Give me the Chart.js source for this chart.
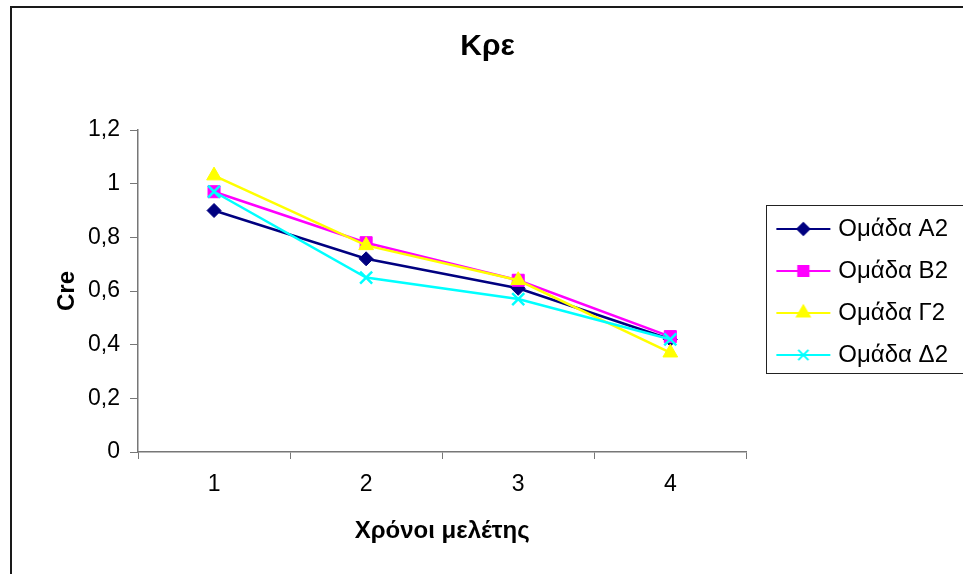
<!DOCTYPE html>
<html>
<head>
<meta charset="utf-8">
<title>Κρε</title>
<script src="https://cdn.jsdelivr.net/npm/chart.js@4.4.1/dist/chart.umd.min.js"></script>
<style>
  html, body { margin: 0; padding: 0; background: #fff; }
  #chart { display: block; }
</style>
</head>
<body>
<canvas id="chart" width="963" height="574"></canvas>
<script>
// Creatinine per study year, one line per group
const years = ['1', '2', '3', '4'];
const groupA2 = [0.90, 0.72, 0.61, 0.42];
const groupB2 = [0.97, 0.78, 0.64, 0.43];
const groupG2 = [1.03, 0.77, 0.64, 0.37];
const groupD2 = [0.97, 0.65, 0.57, 0.42];
const yTicks = [0, 0.2, 0.4, 0.6, 0.8, 1, 1.2];

const FONT = "'Liberation Sans', Arial, sans-serif";

const series = [
  { label: 'Ομάδα Α2', data: groupA2, color: '#000080', style: 'rectRot', radius: 7 },
  { label: 'Ομάδα Β2', data: groupB2, color: '#ff00ff', style: 'rect', radius: 8.5 },
  { label: 'Ομάδα Γ2', data: groupG2, color: '#ffff00', style: 'triangle', radius: 8.5 },
  { label: 'Ομάδα Δ2', data: groupD2, color: '#00ffff', style: 'crossRot', radius: 8.5 },
];

// legend key: short line with the marker in the middle
function legendSymbol(s) {
  const c = document.createElement('canvas');
  c.width = 72; c.height = 24;
  const ctx = c.getContext('2d');
  ctx.strokeStyle = s.color;
  ctx.fillStyle = s.color;
  ctx.lineWidth = 2;
  ctx.beginPath(); ctx.moveTo(17, 12); ctx.lineTo(71, 12); ctx.stroke();
  Chart.helpers.drawPoint(ctx, {
    pointStyle: s.style, rotation: 0, radius: s.radius * 0.85,
    borderWidth: s.style === 'crossRot' ? 2 : 1
  }, 44, 12);
  return c;
}

const frame = {
  id: 'frame',
  beforeDraw(chart) {
    const ctx = chart.ctx;
    ctx.save();
    ctx.fillStyle = '#fff';
    ctx.fillRect(0, 0, chart.width, chart.height);
    ctx.strokeStyle = '#1a1a1a';
    ctx.lineWidth = 2;
    ctx.strokeRect(11, 7, chart.width + 20, chart.height + 20);
    ctx.restore();
  },
  afterDraw(chart) {
    // box round the legend entries
    const boxes = chart.legend.legendHitBoxes;
    if (!boxes || !boxes.length) return;
    const l = Math.min(...boxes.map(b => b.left)) + 2;
    const t = Math.min(...boxes.map(b => b.top)) - 12;
    const r = Math.max(...boxes.map(b => b.left + b.width)) + 15;
    const btm = Math.max(...boxes.map(b => b.top + b.height)) + 6;
    const ctx = chart.ctx;
    ctx.save();
    ctx.strokeStyle = '#222';
    ctx.lineWidth = 1;
    ctx.strokeRect(Math.round(l) + 0.5, Math.round(t) + 0.5, Math.round(r - l), Math.round(btm - t));
    ctx.restore();
  }
};

new Chart(document.getElementById('chart'), {
  type: 'line',
  data: {
    labels: years,
    datasets: series.map((s, i) => ({
      label: s.label,
      data: s.data,
      borderColor: s.color,
      backgroundColor: s.color,
      pointBackgroundColor: s.color,
      pointBorderColor: s.color,
      pointStyle: s.style,
      pointRadius: s.radius,
      pointBorderWidth: s.style === 'crossRot' ? 2.5 : 1,
      borderWidth: 2.5,
      tension: 0,
      fill: false,
      order: series.length - i
    }))
  },
  options: {
    responsive: false,
    animation: false,
    layout: { padding: { left: 17, right: 5, top: 10, bottom: 0 } },
    plugins: {
      title: {
        display: true, text: 'Κρε', color: '#000',
        font: { family: FONT, size: 30, weight: 'bold' },
        padding: { top: 19, bottom: 65 }
      },
      legend: {
        position: 'right',
        labels: {
          color: '#000',
          font: { family: FONT, size: 24 },
          usePointStyle: true,
          pointStyleWidth: 62,
          padding: 18,
          generateLabels: () => series.map((s, i) => ({
            text: s.label, datasetIndex: i, hidden: false,
            pointStyle: legendSymbol(s), fillStyle: s.color, strokeStyle: s.color, lineWidth: 0
          }))
        }
      },
      tooltip: { enabled: false }
    },
    scales: {
      x: {
        offset: true,
        grid: { offset: true, drawOnChartArea: false, tickLength: 7, color: '#777' },
        border: { color: '#777', width: 1.5 },
        ticks: { color: '#000', font: { family: FONT, size: 23 }, padding: 12 },
        title: {
          display: true, text: 'Χρόνοι μελέτης', color: '#000',
          font: { family: FONT, size: 24, weight: 'bold' },
          padding: { top: 4, bottom: 28 }
        },
        afterFit(scale) { scale.height = 122; }
      },
      y: {
        min: 0, max: 1.2,
        afterBuildTicks(scale) { scale.ticks = yTicks.map(v => ({ value: v })); },
        grid: { drawOnChartArea: false, tickLength: 8, color: '#777' },
        border: { color: '#777', width: 1.5 },
        ticks: {
          color: '#000', font: { family: FONT, size: 23 }, padding: 10,
          callback: v => String(Math.round(v * 10) / 10).replace('.', ',')
        },
        title: {
          display: true, text: 'Cre', color: '#000',
          font: { family: FONT, size: 24, weight: 'bold' },
          padding: { top: 36, bottom: 0 }
        },
        afterFit(scale) { scale.width = 121; }
      }
    }
  },
  plugins: [frame]
});
</script>
</body>
</html>
